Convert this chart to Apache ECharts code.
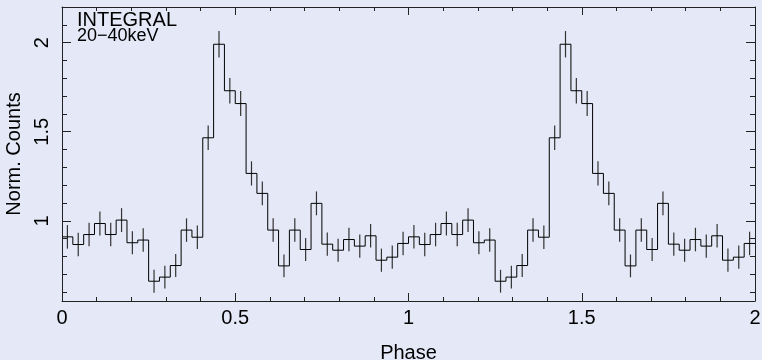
<!DOCTYPE html>
<html>
<head>
<meta charset="utf-8">
<script src="https://cdn.jsdelivr.net/npm/echarts@6/dist/echarts.min.js"></script>
<style>
html,body{margin:0;padding:0;background:#E5E8F6;}
#c{width:762px;height:360px;}
</style>
</head>
<body>
<div id="c"></div>
<script>
// Bin values for one pulse cycle (32 bins per phase), shown twice (phase 0-2)
var cycleValues = [0.910,0.867,0.923,0.985,0.923,1.004,0.877,0.892,0.661,0.684,0.749,0.948,0.908,1.466,1.991,1.730,
                   1.658,1.266,1.154,0.948,0.747,0.948,0.839,1.098,0.869,0.835,0.895,0.858,0.916,0.779,0.796,0.873];
var cycleErrors = [0.066,0.066,0.066,0.067,0.066,0.067,0.065,0.066,0.064,0.064,0.065,0.066,0.066,0.069,0.074,0.071,
                   0.070,0.068,0.067,0.066,0.064,0.066,0.065,0.067,0.065,0.065,0.066,0.065,0.066,0.065,0.065,0.066];
var nCycles = 2;
var binsPerCycle = 32;
var xTickLabels = [0, 0.5, 1, 1.5, 2];
var yTickLabels = [1, 1.5, 2];
var yMinorTicks = [0.6,0.7,0.8,0.9,1.1,1.2,1.3,1.4,1.6,1.7,1.8,1.9,2.1];
var labelTop = 'INTEGRAL';
var labelBand = '20\u221240keV';

var FONT = '"Liberation Sans", Arial, Helvetica, sans-serif';
var values = [], errors = [];
for (var c = 0; c < nCycles; c++) { values = values.concat(cycleValues); errors = errors.concat(cycleErrors); }
var binW = 1 / binsPerCycle;
var stepData = [], errData = [];
for (var i = 0; i < values.length; i++) {
  stepData.push([i * binW, values[i]]);
  errData.push([(i + 0.5) * binW, values[i], errors[i]]);
}
stepData.push([values.length * binW, values[values.length - 1]]);

var axisCol = '#222';
var chart = echarts.init(document.getElementById('c'), null, {renderer: 'canvas'});
function xAx(pos, showLabel) {
  return {
    type: 'value', position: pos, min: 0, max: 2, interval: 0.5,
    axisLine: {show: true, onZero: false, lineStyle: {color: axisCol, width: 1}},
    axisTick: {show: true, inside: true, length: 8, lineStyle: {color: axisCol}},
    minorTick: {show: true, splitNumber: 5, length: 4, lineStyle: {color: axisCol}},
    axisLabel: {show: showLabel, color: '#000', fontSize: 20, fontFamily: FONT, margin: 7,
      customValues: xTickLabels},
    splitLine: {show: false}, minorSplitLine: {show: false},
    name: showLabel ? 'Phase' : '', nameLocation: 'middle', nameGap: 42,
    nameTextStyle: {color: '#000', fontSize: 20, fontFamily: FONT}
  };
}
function yAx(pos, showLabel, minor) {
  return {
    type: 'value', position: pos, min: 0.55, max: 2.2,
    axisLine: {show: !minor, onZero: false, lineStyle: {color: axisCol, width: 1}},
    axisTick: {show: true, inside: true, length: minor ? 5 : 9, customValues: minor ? yMinorTicks : yTickLabels,
      lineStyle: {color: axisCol}},
    axisLabel: {show: showLabel, rotate: 90, color: '#000', fontSize: 20, fontFamily: FONT, margin: 10,
      customValues: yTickLabels},
    splitLine: {show: false},
    name: showLabel ? 'Norm. Counts' : '', nameLocation: 'middle', nameGap: 36, nameRotate: 90,
    nameTextStyle: {color: '#000', fontSize: 20, fontFamily: FONT}
  };
}

chart.setOption({
  backgroundColor: '#E5E8F6',
  animation: false,
  grid: {left: 62, right: 7, top: 7, bottom: 59, containLabel: false, outerBoundsMode: 'none'},
  xAxis: [xAx('bottom', true), xAx('top', false)],
  yAxis: [yAx('left', true, false), yAx('left', false, true), yAx('right', false, false), yAx('right', false, true)],
  graphic: [
    {type: 'text', left: 77, top: 10, style: {text: labelTop, fill: '#000', font: '20px ' + FONT}},
    {type: 'text', left: 77, top: 27, style: {text: labelBand, fill: '#000', font: '18px ' + FONT}}
  ],
  series: [
    {
      type: 'line', step: 'end', data: stepData, xAxisIndex: 0, yAxisIndex: 0,
      showSymbol: false, symbol: 'none', lineStyle: {color: '#000', width: 1}, silent: true
    },
    {
      type: 'custom', data: errData, xAxisIndex: 0, yAxisIndex: 0, silent: true,
      renderItem: function (params, api) {
        var x = api.value(0), v = api.value(1), e = api.value(2);
        var p1 = api.coord([x, v - e]), p2 = api.coord([x, v + e]);
        return {type: 'line', shape: {x1: p1[0], y1: p1[1], x2: p2[0], y2: p2[1]},
          style: {stroke: '#333', lineWidth: 1.2}};
      }
    }
  ]
});
</script>
</body>
</html>
